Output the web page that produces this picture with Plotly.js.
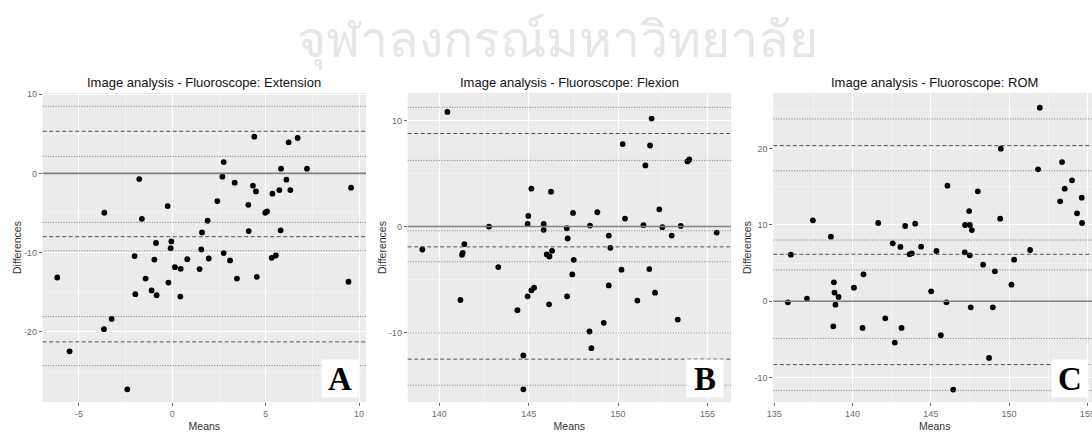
<!DOCTYPE html>
<html>
<head>
<meta charset="utf-8">
<script src="https://cdn.plot.ly/plotly-3.0.1.min.js"></script>
<style>
html,body{margin:0;padding:0;background:#fff;overflow:hidden;}
#chart{width:1100px;height:432px;}
</style>
</head>
<body>
<div id="chart"></div>
<script>
// ---------- Data ----------
const watermarkText = "จุฬาลงกรณ์มหาวิทยาลัย";
const panelTitles = ["Image analysis - Fluoroscope: Extension", "Image analysis - Fluoroscope: Flexion", "Image analysis - Fluoroscope: ROM"];
const panelLetters = ["A", "B", "C"];
const xAxisTitle = "Means";
const yAxisTitle = "Differences";

// Panel A: Extension
const extMeans = [-6.16,-5.5,-3.64,-3.66,-3.25,-2.41,-2.02,-1.98,-1.77,-1.63,-1.43,-1.11,-0.96,-0.875,-0.84,-0.25,-0.21,-0.09,-0.05,0.14,0.45,0.43,0.80,1.46,1.55,1.59,1.89,1.95,2.41,2.68,2.75,2.75,3.09,3.34,3.46,4.07,4.09,4.32,4.39,4.48,4.52,4.98,5.07,5.36,5.32,5.54,5.73,5.82,5.80,6.11,6.23,6.32,6.71,7.21,9.43,9.57];
const extDiffs = [-13.16,-22.5,-4.98,-19.7,-18.4,-27.3,-10.46,-15.27,-0.72,-5.74,-13.3,-14.8,-10.9,-8.8,-15.4,-4.13,-13.8,-9.45,-8.6,-11.86,-12.07,-15.57,-10.84,-12.1,-9.62,-7.47,-5.99,-10.76,-3.5,-0.42,1.43,-10.08,-11.0,-1.18,-13.3,-3.97,-7.3,-1.56,4.64,-2.28,-13.08,-4.98,-4.81,-2.57,-10.67,-10.38,-2.11,0.59,-7.2,-0.80,3.92,-2.11,4.47,0.59,-13.7,-1.81];
const extDashed = [5.32, -8.0, -21.3];
const extDotted = [8.48, 2.15, -6.2, -9.8, -18.1, -24.3];
const extXTicks = [-5, 0, 5, 10];
const extYTicks = [-20, -10, 0, 10];

// Panel B: Flexion
const flexMeans = [139.05,140.45,141.18,141.27,141.31,141.40,142.78,143.30,144.37,144.70,144.70,144.94,144.98,144.94,145.15,145.15,145.30,145.84,145.84,146.01,146.14,146.16,146.25,146.31,147.13,147.18,147.15,147.44,147.48,147.52,148.84,148.40,148.43,148.51,149.20,149.48,149.57,149.48,150.19,150.26,150.39,151.08,151.42,151.53,151.75,151.79,151.88,152.07,152.31,152.48,153.0,153.34,153.51,153.88,153.99,155.52];
const flexDiffs = [-2.17,10.83,-6.94,-2.67,-2.48,-1.66,0,-3.83,-7.91,-12.18,-15.38,0.25,1.0,-6.59,3.58,-6.03,-5.78,0.25,-0.31,-2.64,-7.35,-2.83,3.30,-2.29,-0.16,-1.13,-6.59,-4.52,1.29,-3.14,1.35,-9.92,0.09,-11.49,-9.1,-0.85,-2.01,-5.56,-4.08,7.79,0.75,-7.0,0.13,5.78,-4.02,7.66,10.2,-6.25,1.63,-0.06,-0.85,-8.79,0.06,6.15,6.34,-0.57];
const flexDashed = [8.79, -1.92, -12.53];
const flexDotted = [11.27, 6.25, -0.41, -3.33, -10.05, -15.0];
const flexXTicks = [140, 145, 150, 155];
const flexYTicks = [-10, 0, 10];

// Panel C: ROM
const romMeans = [135.87,136.06,137.09,137.47,138.62,138.77,138.81,138.85,138.91,139.11,140.09,140.64,140.70,141.64,142.09,142.57,142.70,143.06,143.13,143.36,143.64,143.79,144.0,144.38,145.02,145.36,146.0,146.06,145.64,146.43,147.17,147.19,147.45,147.49,147.49,147.55,147.62,148.0,148.34,148.72,148.96,149.09,149.43,149.47,150.15,150.32,151.34,151.85,151.96,153.26,153.38,153.55,154.02,154.34,154.64,154.66];
const romDiffs = [-0.13,6.11,0.35,10.61,8.47,-3.28,2.49,1.14,-0.44,0.57,1.79,-3.49,3.54,10.26,-2.23,7.6,-5.41,7.12,-3.49,9.87,6.16,6.29,10.17,7.16,1.31,6.59,-0.13,15.15,-4.45,-11.57,6.42,10.0,11.83,10.0,6.03,-0.79,9.34,14.41,4.8,-7.42,-0.79,3.93,10.83,20.0,2.18,5.46,6.72,17.29,25.37,13.1,18.25,14.76,15.85,11.53,13.58,10.26];
const romDashed = [20.4, 6.16, -8.3];
const romDotted = [23.9, 17.1, 8.03, 4.1, -4.9, -11.7];
const romXTicks = [135, 140, 145, 150, 155];
const romYTicks = [-10, 0, 10, 20];

const zeroRef = [0];

// ---------- Layout helpers ----------
const W = 1100, H = 432;
const panels = [
  {means: extMeans, diffs: extDiffs, dashed: extDashed, dotted: extDotted, xt: extXTicks, yt: extYTicks,
   xr: [-6.94, 10.37], yr: [-28.9, 10.16], px: [42.7, 366]},
  {means: flexMeans, diffs: flexDiffs, dashed: flexDashed, dotted: flexDotted, xt: flexXTicks, yt: flexYTicks,
   xr: [138.23, 156.32], yr: [-16.58, 12.62], px: [407.7, 731]},
  {means: romMeans, diffs: romDiffs, dashed: romDashed, dotted: romDotted, xt: romXTicks, yt: romYTicks,
   xr: [134.94, 155.55], yr: [-13.2, 27.3], px: [773.3, 1096]}
];
const plotTop = 93, plotBottom = 402;
const yDomain = [(H - plotBottom) / H, (H - plotTop) / H];

const traces = [];
const shapes = [];
const annotations = [];
const layout = {
  width: W, height: H,
  margin: {l: 0, r: 0, t: 0, b: 0},
  paper_bgcolor: '#ffffff',
  plot_bgcolor: '#EBEBEB',
  showlegend: false,
  font: {family: 'Arial, "Liberation Sans", sans-serif', color: '#000'}
};

panels.forEach((p, i) => {
  const n = i === 0 ? '' : String(i + 1);
  const xa = 'x' + n, ya = 'y' + n;
  traces.push({
    type: 'scatter', mode: 'markers', x: p.means, y: p.diffs,
    xaxis: xa, yaxis: ya,
    marker: {color: '#000', size: 5.8},
    hoverinfo: 'x+y'
  });
  const axCommon = {
    showline: false, zeroline: false,
    showgrid: true, gridcolor: '#ffffff', gridwidth: 1,
    ticks: 'outside', ticklen: 3, tickwidth: 1, tickcolor: '#6b6b6b',
    tickfont: {size: 9, color: '#6b6b6b', family: 'Arial, "Liberation Sans", sans-serif'},
    fixedrange: true
  };
  layout['xaxis' + n] = Object.assign({}, axCommon, {
    domain: [p.px[0] / W, p.px[1] / W], anchor: ya, range: p.xr,
    tickmode: 'array', tickvals: p.xt, ticktext: p.xt.map(String),
    minor: {tickmode: 'array', tickvals: p.xt.map(v => v - 2.5).concat([p.xt[p.xt.length - 1] + 2.5]),
            showgrid: true, gridcolor: '#f7f7f7', gridwidth: 0.6, ticks: ''},
    title: {text: xAxisTitle, font: {size: 10.5, color: '#333'}, standoff: 4}
  });
  const ystep = p.yt[1] - p.yt[0];
  layout['yaxis' + n] = Object.assign({}, axCommon, {
    domain: yDomain, anchor: xa, range: p.yr,
    tickmode: 'array', tickvals: p.yt, ticktext: p.yt.map(String),
    minor: {tickmode: 'array', tickvals: p.yt.map(v => v - ystep / 2).concat([p.yt[p.yt.length - 1] + ystep / 2]),
            showgrid: true, gridcolor: '#f7f7f7', gridwidth: 0.6, ticks: ''},
    title: {text: yAxisTitle, font: {size: 10.5, color: '#333'}, standoff: 0}
  });
  // reference lines (drawn through the axes' own scales)
  zeroRef.forEach(v => shapes.push({type: 'line', xref: xa + ' domain', yref: ya, x0: 0, x1: 1, y0: v, y1: v,
    line: {color: '#808080', width: 1.6}}));
  p.dashed.forEach(v => shapes.push({type: 'line', xref: xa + ' domain', yref: ya, x0: 0, x1: 1, y0: v, y1: v,
    line: {color: '#505050', width: 1, dash: '4px,2.5px'}}));
  p.dotted.forEach(v => shapes.push({type: 'line', xref: xa + ' domain', yref: ya, x0: 0, x1: 1, y0: v, y1: v,
    line: {color: '#707070', width: 0.9, dash: '1px,1.6px'}}));
  // panel title
  annotations.push({text: panelTitles[i], xref: xa + ' domain', yref: ya + ' domain', x: 0.5, y: 1,
    xanchor: 'center', yanchor: 'middle', yshift: 11, showarrow: false,
    font: {size: 13, color: '#111', family: 'Arial, "Liberation Sans", sans-serif'}});
  // panel letter box
  annotations.push({text: '<b>' + panelLetters[i] + '</b>', xref: xa + ' domain', yref: ya + ' domain', x: 1, y: 0,
    xanchor: 'right', yanchor: 'bottom', xshift: -7, yshift: 4, showarrow: false,
    width: 36, height: 37, bgcolor: '#ffffff', borderpad: 0, align: 'center', valign: 'middle',
    font: {size: 33, color: '#000', family: '"Liberation Serif", "Times New Roman", serif'}});
});

// watermark
annotations.push({text: watermarkText, xref: 'paper', yref: 'paper', x: 557 / W, y: (H - 38) / H,
  xanchor: 'center', yanchor: 'middle', showarrow: false,
  font: {size: 50, color: '#e6e6e6', family: '"Noto Sans", "DejaVu Sans", sans-serif'}});

layout.shapes = shapes;
layout.annotations = annotations;

Plotly.newPlot('chart', traces, layout, {displayModeBar: false, staticPlot: true});
</script>
</body>
</html>
